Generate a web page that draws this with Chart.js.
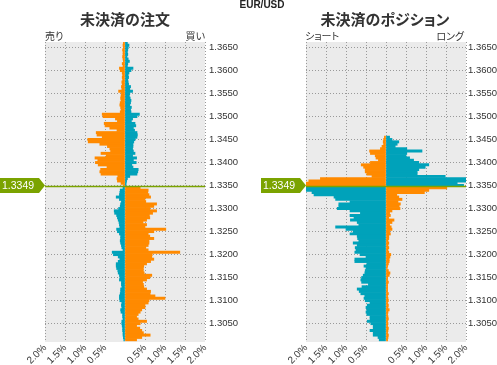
<!DOCTYPE html>
<html lang="ja">
<head>
<meta charset="UTF-8" />
<title>EUR/USD 未決済の注文・ポジション</title>
<script src="https://cdn.jsdelivr.net/npm/chart.js"></script>
<style>
  body { margin: 0; background: #fff; width: 497px; height: 365px; position: relative; overflow: hidden;
         font-family: "Noto Sans CJK JP", sans-serif; color: #333; }
  canvas { position: absolute; top: 0; }
  #chartOrders { left: 0; }
  #chartPositions { left: 250px; }
  .txt { position: absolute; white-space: nowrap; font-feature-settings: "palt"; line-height: 1; }
  .pair { font: bold 10px "Liberation Sans", Arial, sans-serif; top: -1px; left: 262px; transform: translateX(-50%); color: #222; }
  .title { font-size: 15px; font-weight: bold; top: 11px; transform: translateX(-50%); }
  .side { font-size: 10px; top: 31px; }
</style>
</head>
<body>
  <canvas id="chartOrders" width="250" height="365"></canvas>
  <canvas id="chartPositions" width="247" height="365"></canvas>

  <div class="txt pair">EUR/USD</div>
  <div class="txt title" style="left:125px">未決済の注文</div>
  <div class="txt title" style="left:385px">未決済のポジション</div>
  <div class="txt side" style="left:45px">売り</div>
  <div class="txt side" style="right:292px">買い</div>
  <div class="txt side" style="left:305px">ショート</div>
  <div class="txt side" style="right:33px">ロング</div>

<script>
  // 価格帯 (0.0005刻み, 上から下へ)
  const topPrice = 1.3660;
  const bucket = 0.0005;
  const currentPrice = 1.3349;
  const yMin = 1.3010, yMax = 1.3662;

  // 値は % (マイナス = 売り / ショート側)
  const orderOrange = [
    -0.04, -0.05, -0.04, -0.06, -0.05, -0.05, -0.06, -0.05, -0.04, -0.07,
    -0.05, -0.14, -0.12, -0.07, -0.06, -0.07, -0.06, -0.08, -0.07, -0.09,
    -0.08, -0.16, -0.09, -0.10, -0.11, -0.10, -0.12, -0.13, -0.11, -0.10,
    -0.12, -0.57, -0.55, -0.24, -0.19, -0.52, -0.50, -0.38, -0.20, -0.72,
    -0.70, -0.57, -0.93, -0.92, -0.63, -0.44, -0.38, -0.36, -0.60, -0.47,
    -0.75, -0.68, -0.74, -0.67, -0.45, -0.61, -0.63, -0.60, -0.18, -0.20,
    -0.19, -0.10, -0.03, 0.38, 0.58, 0.57, 0.60, 0.64, 0.50, 0.52,
    0.79, 0.72, 0.62, 0.79, 0.69, 0.61, 0.62, 0.54, 0.45, 0.54,
    0.50, 1.02, 0.72, 0.58, 0.62, 0.72, 0.60, 0.60, 0.58, 0.52,
    0.58, 1.37, 0.68, 0.67, 0.72, 0.64, 0.54, 0.47, 0.46, 0.46,
    0.48, 0.67, 0.62, 0.54, 0.44, 0.46, 0.47, 0.54, 0.64, 0.63,
    0.75, 1.00, 0.60, 0.58, 0.50, 0.50, 0.42, 0.38, 0.33, 0.29,
    0.33, 0.54, 0.38, 0.29, 0.37, 0.42, 0.46, 0.63, 0.42, 0.29
  ];
  const orderTeal = [
    0.06, 0.10, 0.08, 0.07, 0.06, 0.07, 0.05, 0.08, 0.11, 0.07,
    0.06, 0.20, 0.15, 0.10, 0.08, 0.09, 0.07, 0.08, 0.09, 0.14,
    0.12, 0.19, 0.12, 0.11, 0.13, 0.15, 0.14, 0.12, 0.16, 0.14,
    0.15, 0.36, 0.30, 0.19, 0.16, 0.25, 0.27, 0.21, 0.24, 0.30,
    0.31, 0.30, 0.25, 0.22, 0.20, 0.20, 0.19, 0.21, 0.25, 0.19,
    0.29, 0.21, 0.28, 0.17, 0.20, 0.33, 0.32, 0.30, 0.12, 0.06,
    0.04, 0.03, 0.02, -0.05, -0.12, -0.13, -0.14, -0.22, -0.14, -0.09,
    -0.11, -0.12, -0.16, -0.27, -0.26, -0.21, -0.19, -0.17, -0.15, -0.14,
    -0.13, -0.21, -0.19, -0.14, -0.11, -0.11, -0.12, -0.11, -0.09, -0.08,
    -0.05, -0.32, -0.29, -0.17, -0.13, -0.17, -0.22, -0.22, -0.21, -0.18,
    -0.17, -0.14, -0.13, -0.14, -0.09, -0.09, -0.08, -0.11, -0.11, -0.12,
    -0.14, -0.14, -0.13, -0.08, -0.09, -0.08, -0.11, -0.10, -0.06, -0.06,
    -0.05, -0.08, -0.08, -0.07, -0.06, -0.06, -0.05, -0.05, -0.04, -0.03
  ];
  const posOrange = [
    0, 0, 0, 0, 0, 0, 0, 0, 0, 0,
    0, 0, 0, 0, 0, 0, 0, 0, 0, 0,
    0, 0, 0, 0, 0, 0, 0, 0, 0, 0,
    0, 0, 0, 0, 0, 0, 0, 0, 0, 0,
    0, -0.04, -0.06, -0.07, -0.06, -0.10, -0.14, -0.41, -0.39, -0.27,
    -0.25, -0.19, -0.39, -0.62, -0.56, -0.52, -0.52, -0.48, -0.35, -1.64,
    -1.93, -2.00, -2.00, 1.52, 1.07, 0.96, 0.27, 0.32, 0.40, 0.30,
    0.36, 0.33, 0.35, 0.15, 0.09, 0.11, 0.07, 0.20, 0.15, 0.09,
    0.13, 0.15, 0.09, 0.11, 0.07, 0.07, 0.05, 0.07, 0.05, 0.07,
    0.05, 0.07, 0.12, 0.10, 0.08, 0.08, 0.06, 0.04, 0.03, 0.06,
    0.10, 0.08, 0.04, 0.04, 0.06, 0.04, 0.04, 0.04, 0.04, 0.06,
    0.04, 0.05, 0.06, 0.04, 0.06, 0.05, 0.08, 0.05, 0.04, 0.05,
    0.06, 0.04, 0.05, 0.04, 0.06, 0.05, 0.04, 0.06, 0.05, 0.04
  ];
  const posTeal = [
    0, 0, 0, 0, 0, 0, 0, 0, 0, 0,
    0, 0, 0, 0, 0, 0, 0, 0, 0, 0,
    0, 0, 0, 0, 0, 0, 0, 0, 0, 0,
    0, 0, 0, 0, 0, 0, 0, 0, 0, 0,
    0, 0.09, 0.15, 0.32, 0.28, 0.23, 0.52, 0.90, 0.52, 0.50,
    0.59, 0.69, 0.82, 1.07, 0.98, 0.82, 0.78, 0.78, 1.48, 2.00,
    2.00, 1.78, 1.94, -2.00, -2.00, -1.85, -1.80, -1.30, -1.26, -0.90,
    -1.18, -1.18, -1.22, -0.90, -0.64, -0.90, -0.80, -0.89, -0.72, -0.68,
    -1.26, -1.00, -0.82, -0.90, -0.72, -0.71, -0.68, -0.82, -0.72, -0.77,
    -0.75, -0.78, -0.65, -0.50, -0.78, -0.78, -0.48, -0.55, -0.50, -0.52,
    -0.53, -0.57, -0.61, -0.63, -0.61, -0.44, -0.60, -0.72, -0.67, -0.63,
    -0.53, -0.55, -0.52, -0.40, -0.47, -0.50, -0.48, -0.50, -0.48, -0.40,
    -0.40, -0.47, -0.38, -0.32, -0.32, -0.40, -0.32, -0.32, -0.20, -0.17
  ];
  const prices = orderOrange.map((_, i) => +(topPrice - i * bucket).toFixed(4));

  const ORANGE = '#ff8a00';
  const TEAL = '#00a2ba';
  const GREEN = '#7ba300';
  const PLOT_BG = '#ebebeb';
  const FONT = '"Liberation Sans", Arial, sans-serif';

  Chart.defaults.font.family = FONT;
  Chart.defaults.color = '#333';

  // 背景 + 現在値ライン・タグ
  const pricePlugin = {
    id: 'currentPrice',
    beforeDraw(chart) {
      const { ctx, chartArea: a } = chart;
      ctx.save();
      ctx.fillStyle = PLOT_BG;
      ctx.fillRect(a.left, a.top, a.right - a.left, a.bottom - a.top);
      ctx.restore();
    },
    afterDatasetsDraw(chart) {
      const { ctx, chartArea: a } = chart;
      const py = Math.round(chart.scales.y.getPixelForValue(currentPrice)) + 0.5;
      ctx.save();
      ctx.strokeStyle = GREEN;
      ctx.lineWidth = 1.5;
      ctx.beginPath();
      ctx.moveTo(a.left, py);
      ctx.lineTo(a.right, py);
      ctx.stroke();

      const h = 15, x0 = a.left - 45, xb = a.left - 6, ty = py - 1;
      ctx.fillStyle = GREEN;
      ctx.beginPath();
      ctx.moveTo(x0, ty - h / 2);
      ctx.lineTo(xb, ty - h / 2);
      ctx.lineTo(a.left, ty);
      ctx.lineTo(xb, ty + h / 2);
      ctx.lineTo(x0, ty + h / 2);
      ctx.closePath();
      ctx.fill();
      ctx.fillStyle = '#fff';
      ctx.font = '10.5px ' + FONT;
      ctx.textBaseline = 'middle';
      ctx.textAlign = 'left';
      ctx.fillText(currentPrice.toFixed(4), x0 + 2, ty + 0.5);
      ctx.restore();
    }
  };

  // 値が 0 の価格帯は描かない
  const barColor = color => c => (c.raw === 0 ? 'rgba(0,0,0,0)' : color);

  function buildChart(id, orange, teal, padLeft, axisWidth, labelPad) {
    return new Chart(document.getElementById(id), {
      type: 'bar',
      data: {
        labels: prices,
        datasets: [
          { data: orange, backgroundColor: barColor(ORANGE) },
          { data: teal, backgroundColor: barColor(TEAL) }
        ]
      },
      options: {
        indexAxis: 'y',
        responsive: false,
        animation: false,
        layout: { padding: { left: padLeft, top: 42, right: 0, bottom: 0 } },
        datasets: { bar: { grouped: false, barPercentage: 1, categoryPercentage: 1, borderWidth: 0 } },
        plugins: { legend: { display: false }, tooltip: { enabled: false } },
        scales: {
          x: {
            type: 'linear', min: -2, max: 2,
            ticks: {
              stepSize: 0.5, autoSkip: false, minRotation: 45, maxRotation: 45, padding: 0,
              font: { size: 10 },
              callback: v => v === 0 ? '' : Math.abs(v).toFixed(1) + '%'
            },
            grid: { color: '#999', drawTicks: false },
            border: { display: false, dash: [1, 2] },
            afterFit: s => { s.height = 23; }
          },
          y: {
            type: 'linear', position: 'right', min: yMin, max: yMax, offset: false,
            ticks: {
              stepSize: 0.005, includeBounds: false, autoSkip: false, maxTicksLimit: 30, padding: labelPad,
              font: { size: 9.5 },
              callback: v => v.toFixed(4)
            },
            grid: { color: '#999', drawTicks: false, offset: false },
            border: { display: false, dash: [1, 2] },
            afterFit: s => { s.width = axisWidth; }
          }
        }
      },
      plugins: [pricePlugin]
    });
  }

  buildChart('chartOrders', orderOrange, orderTeal, 45, 45, 4);
  buildChart('chartPositions', posOrange, posTeal, 56, 31, 2);
</script>
</body>
</html>
